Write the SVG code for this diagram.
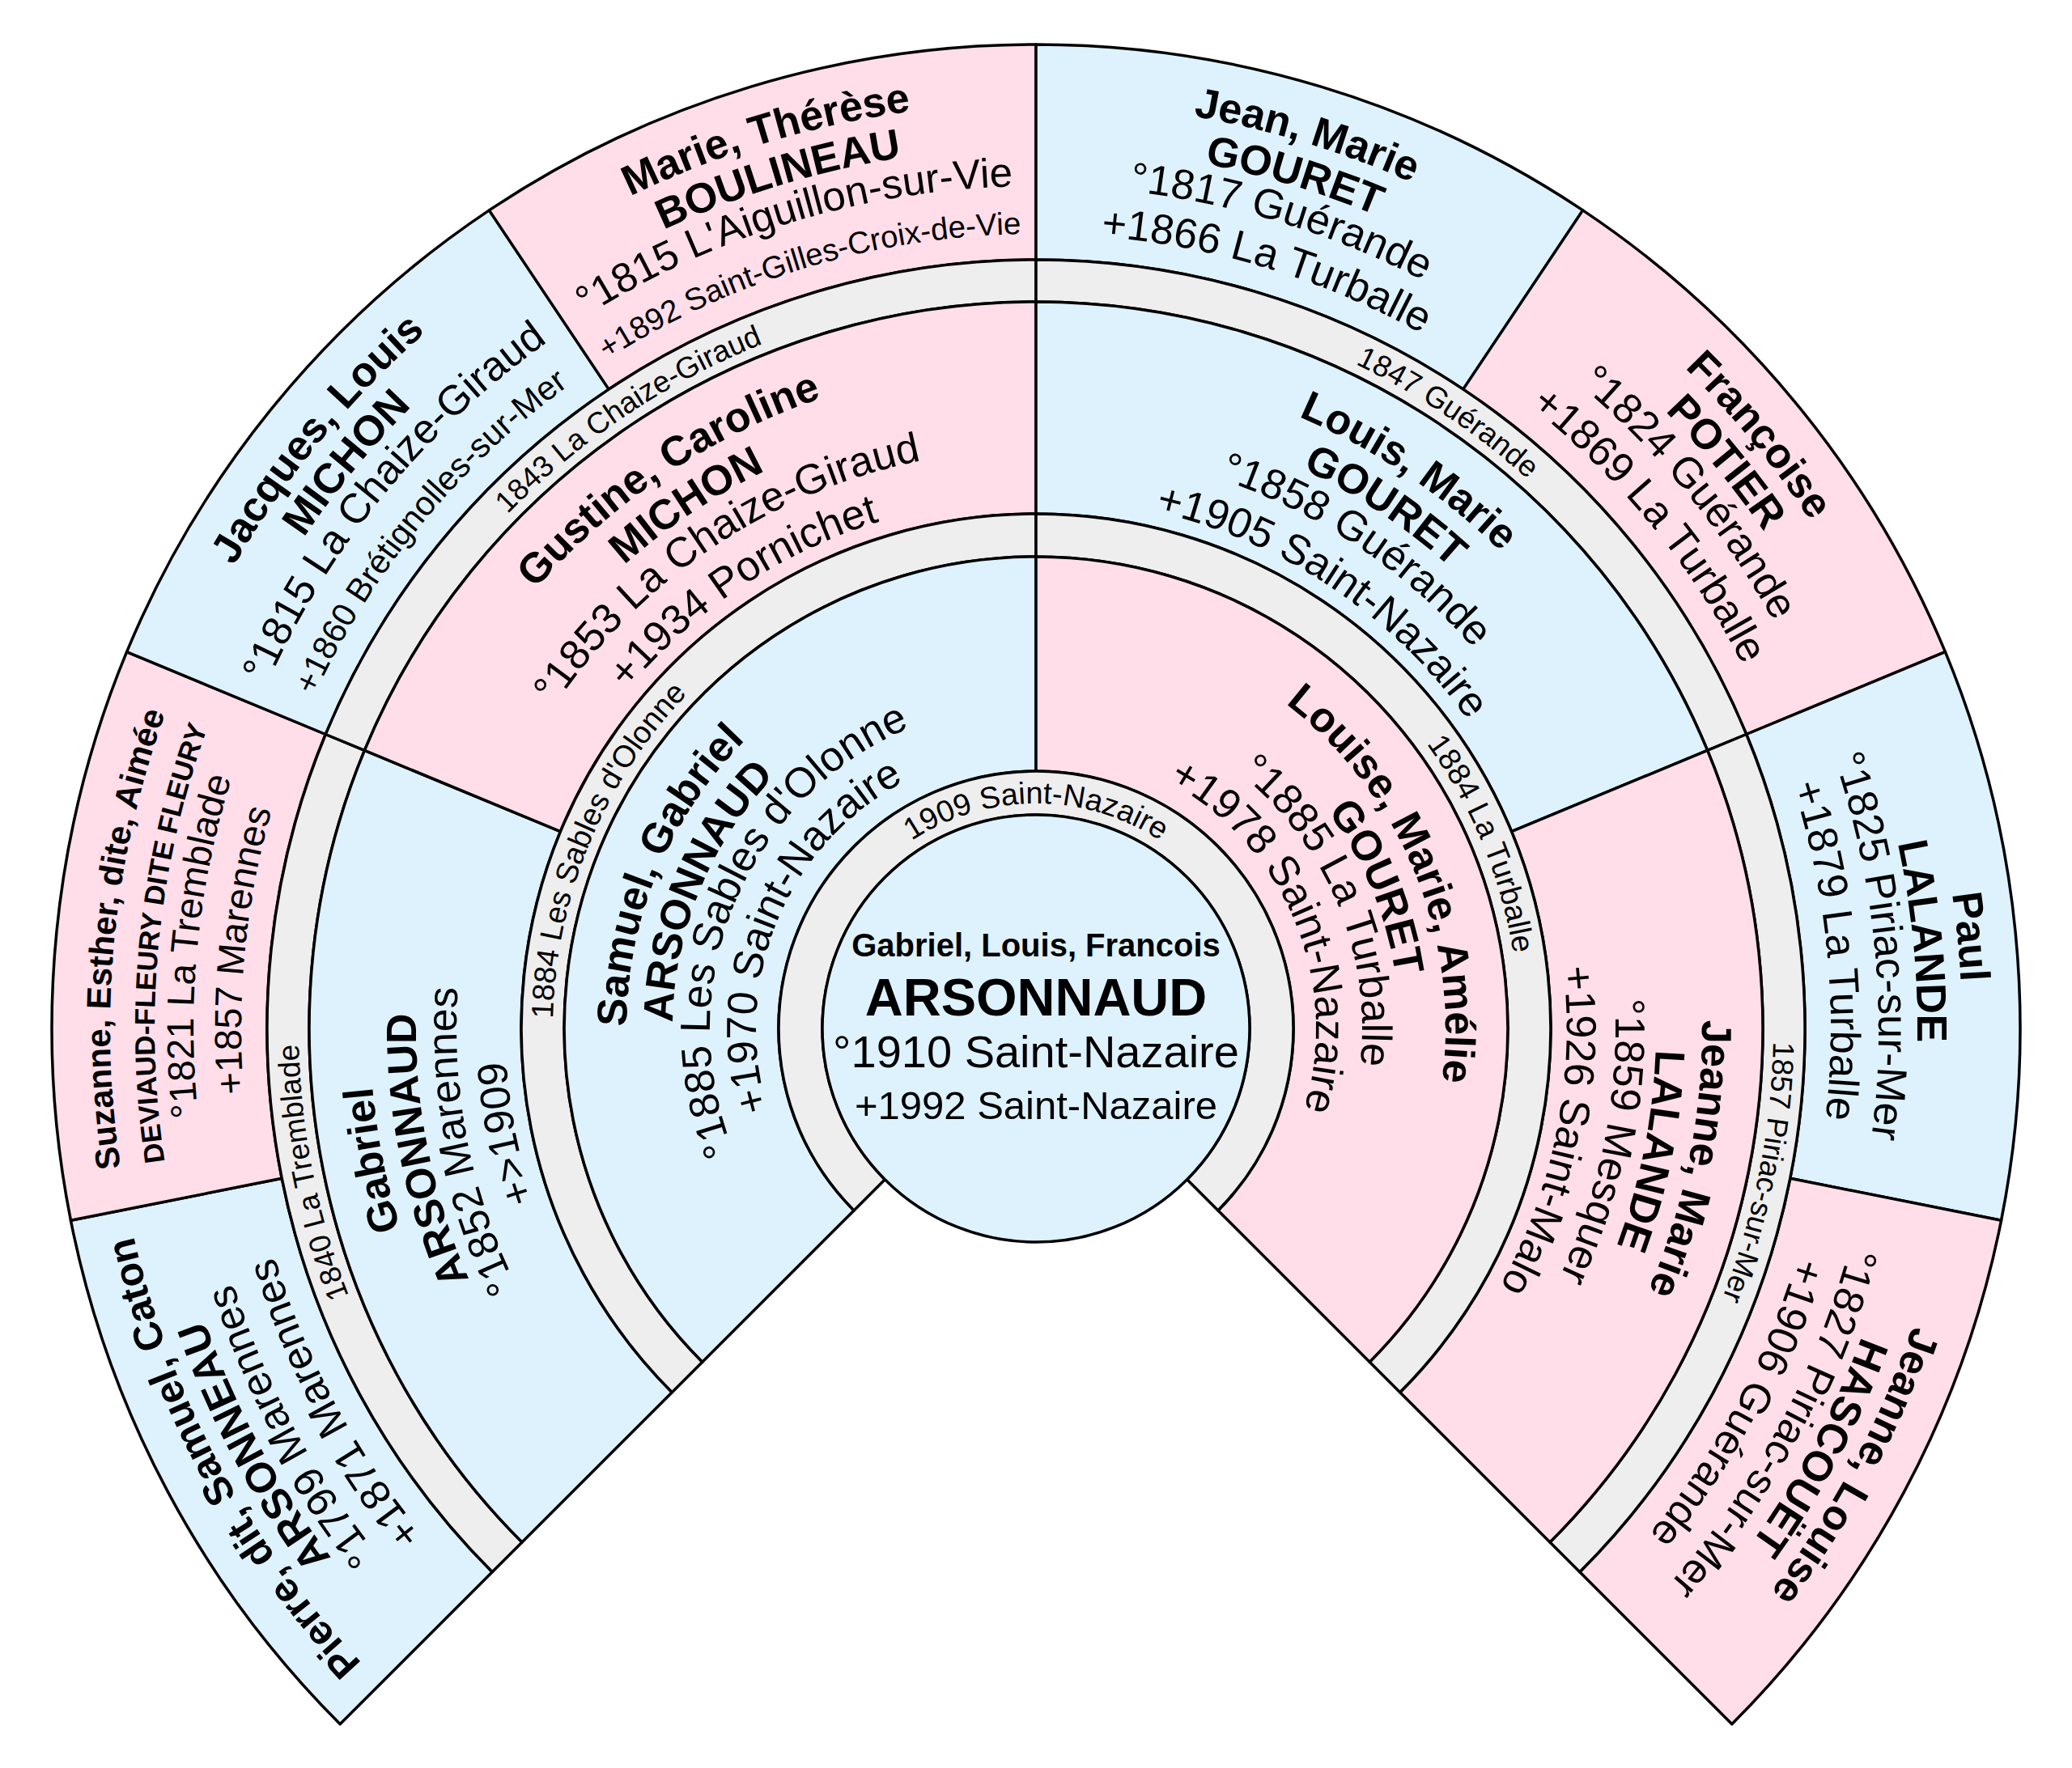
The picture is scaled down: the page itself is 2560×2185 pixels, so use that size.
<svg xmlns="http://www.w3.org/2000/svg" width="2560" height="2185" viewBox="0 0 2560 2185">
<style>
.c{stroke:#000;stroke-width:3.5;stroke-linejoin:round}
.m{fill:#def2fe}
.f{fill:#ffdee9}
.g{fill:#eeeeee}
text{font-family:"Liberation Sans",Arial,Helvetica,sans-serif;fill:#000}
.b{font-weight:bold}
.t{text-anchor:middle}
</style>
<defs>
<path id="r278" d="M-278 0A278 278 0 0 1 278 0"/>
<path id="r597" d="M-597 0A597 597 0 0 1 597 0"/>
<path id="r911" d="M-911 0A911 911 0 0 1 911 0"/>
<path id="r346" d="M-346 0A346 346 0 0 1 346 0"/>
<path id="r403" d="M-403 0A403 403 0 0 1 403 0"/>
<path id="r449" d="M-449 0A449 449 0 0 1 449 0"/>
<path id="r506" d="M-506 0A506 506 0 0 1 506 0"/>
<path id="r656" d="M-656 0A656 656 0 0 1 656 0"/>
<path id="r716" d="M-716 0A716 716 0 0 1 716 0"/>
<path id="r766" d="M-766 0A766 766 0 0 1 766 0"/>
<path id="r823" d="M-823 0A823 823 0 0 1 823 0"/>
<path id="r982" d="M-982 0A982 982 0 0 1 982 0"/>
<path id="r1041" d="M-1041 0A1041 1041 0 0 1 1041 0"/>
<path id="r1089" d="M-1089 0A1089 1089 0 0 1 1089 0"/>
<path id="r1144" d="M-1144 0A1144 1144 0 0 1 1144 0"/>
</defs>
<rect width="2560" height="2185" fill="#fff"/>

<!-- Generation 3 -->
<g id="p-pierre-arsonneau">
<path class="c m" transform="translate(1280 1271)" d="M-859.8 859.8A1216 1216 0 0 1 -1192.6 237.2L-931.7 185.3A950 950 0 0 0 -671.8 671.8Z"/>
<g class="t" transform="translate(1280 1271) rotate(-118.125)">
<text class="b" font-size="50"><textPath href="#r1144" startOffset="50%">Pierre, dit, Samuel, Caton</textPath></text>
<text class="b" font-size="52"><textPath href="#r1089" startOffset="50%">ARSONNEAU</textPath></text>
<text font-size="52"><textPath href="#r1041" startOffset="50%">°1799 Marennes</textPath></text>
<text font-size="52"><textPath href="#r982" startOffset="50%">+1871 Marennes</textPath></text>
</g></g>

<g id="p-suzanne-deviaud-fleury">
<path class="c f" transform="translate(1280 1271)" d="M-1192.6 237.2A1216 1216 0 0 1 -1123.4 -465.3L-877.7 -363.5A950 950 0 0 0 -931.7 185.3Z"/>
<g class="t" transform="translate(1280 1271) rotate(-84.375)">
<text class="b" font-size="42"><textPath href="#r1144" startOffset="50%">Suzanne, Esther, dite, Aimée</textPath></text>
<text class="b" font-size="35"><textPath href="#r1089" startOffset="50%">DEVIAUD-FLEURY DITE FLEURY</textPath></text>
<text font-size="47"><textPath href="#r1041" startOffset="50%">°1821 La Tremblade</textPath></text>
<text font-size="47"><textPath href="#r982" startOffset="50%">+1857 Marennes</textPath></text>
</g></g>

<g id="p-jacques-michon">
<path class="c m" transform="translate(1280 1271)" d="M-1123.4 -465.3A1216 1216 0 0 1 -675.6 -1011.1L-527.8 -789.9A950 950 0 0 0 -877.7 -363.5Z"/>
<g class="t" transform="translate(1280 1271) rotate(-50.625)">
<text class="b" font-size="52"><textPath href="#r1144" startOffset="50%">Jacques, Louis</textPath></text>
<text class="b" font-size="52"><textPath href="#r1089" startOffset="50%">MICHON</textPath></text>
<text font-size="51.5"><textPath href="#r1041" startOffset="50%">°1815 La Chaize-Giraud</textPath></text>
<text font-size="41.5"><textPath href="#r982" startOffset="50%">+1860 Brétignolles-sur-Mer</textPath></text>
</g></g>

<g id="p-marie-boulineau">
<path class="c f" transform="translate(1280 1271)" d="M-675.6 -1011.1A1216 1216 0 0 1 0 -1216L0 -950A950 950 0 0 0 -527.8 -789.9Z"/>
<g class="t" transform="translate(1280 1271) rotate(-16.875)">
<text class="b" font-size="52"><textPath href="#r1144" startOffset="50%">Marie, Thérèse</textPath></text>
<text class="b" font-size="52"><textPath href="#r1089" startOffset="50%">BOULINEAU</textPath></text>
<text font-size="51"><textPath href="#r1041" startOffset="50%">°1815 L'Aiguillon-sur-Vie</textPath></text>
<text font-size="38.5"><textPath href="#r982" startOffset="50%">+1892 Saint-Gilles-Croix-de-Vie</textPath></text>
</g></g>

<g id="p-jean-gouret">
<path class="c m" transform="translate(1280 1271)" d="M0 -1216A1216 1216 0 0 1 675.6 -1011.1L527.8 -789.9A950 950 0 0 0 0 -950Z"/>
<g class="t" transform="translate(1280 1271) rotate(16.875)">
<text class="b" font-size="52"><textPath href="#r1144" startOffset="50%">Jean, Marie</textPath></text>
<text class="b" font-size="52"><textPath href="#r1089" startOffset="50%">GOURET</textPath></text>
<text font-size="52"><textPath href="#r1041" startOffset="50%">°1817 Guérande</textPath></text>
<text font-size="52"><textPath href="#r982" startOffset="50%">+1866 La Turballe</textPath></text>
</g></g>

<g id="p-francoise-potier">
<path class="c f" transform="translate(1280 1271)" d="M675.6 -1011.1A1216 1216 0 0 1 1123.4 -465.3L877.7 -363.5A950 950 0 0 0 527.8 -789.9Z"/>
<g class="t" transform="translate(1280 1271) rotate(50.625)">
<text class="b" font-size="52"><textPath href="#r1144" startOffset="50%">Françoise</textPath></text>
<text class="b" font-size="52"><textPath href="#r1089" startOffset="50%">POTIER</textPath></text>
<text font-size="52"><textPath href="#r1041" startOffset="50%">°1824 Guérande</textPath></text>
<text font-size="52"><textPath href="#r982" startOffset="50%">+1869 La Turballe</textPath></text>
</g></g>

<g id="p-paul-lalande">
<path class="c m" transform="translate(1280 1271)" d="M1123.4 -465.3A1216 1216 0 0 1 1192.6 237.2L931.7 185.3A950 950 0 0 0 877.7 -363.5Z"/>
<g class="t" transform="translate(1280 1271) rotate(84.375)">
<text class="b" font-size="52"><textPath href="#r1144" startOffset="50%">Paul</textPath></text>
<text class="b" font-size="52"><textPath href="#r1089" startOffset="50%">LALANDE</textPath></text>
<text font-size="52"><textPath href="#r1041" startOffset="50%">°1825 Piriac-sur-Mer</textPath></text>
<text font-size="52"><textPath href="#r982" startOffset="50%">+1879 La Turballe</textPath></text>
</g></g>

<g id="p-jeanne-hascouet">
<path class="c f" transform="translate(1280 1271)" d="M1192.6 237.2A1216 1216 0 0 1 859.8 859.8L671.8 671.8A950 950 0 0 0 931.7 185.3Z"/>
<g class="t" transform="translate(1280 1271) rotate(118.125)">
<text class="b" font-size="52"><textPath href="#r1144" startOffset="50%">Jeanne, Louise</textPath></text>
<text class="b" font-size="52"><textPath href="#r1089" startOffset="50%">HASCOUËT</textPath></text>
<text font-size="52"><textPath href="#r1041" startOffset="50%">°1827 Piriac-sur-Mer</textPath></text>
<text font-size="52"><textPath href="#r982" startOffset="50%">+1906 Guérande</textPath></text>
</g></g>

<!-- Marriages generation 3 -->
<g id="mar-1840">
<path class="c g" transform="translate(1280 1271)" d="M-671.8 671.8A950 950 0 0 1 -877.7 -363.5L-829.6 -343.6A898 898 0 0 0 -635 635Z"/>
<text class="t" font-size="37" transform="translate(1280 1271) rotate(-101.25)"><textPath href="#r911" startOffset="50%">1840 La Tremblade</textPath></text>
</g>
<g id="mar-1843">
<path class="c g" transform="translate(1280 1271)" d="M-877.7 -363.5A950 950 0 0 1 0 -950L0 -898A898 898 0 0 0 -829.6 -343.6Z"/>
<text class="t" font-size="37" transform="translate(1280 1271) rotate(-33.75)"><textPath href="#r911" startOffset="50%">1843 La Chaize-Giraud</textPath></text>
</g>
<g id="mar-1847">
<path class="c g" transform="translate(1280 1271)" d="M0 -950A950 950 0 0 1 877.7 -363.5L829.6 -343.6A898 898 0 0 0 0 -898Z"/>
<text class="t" font-size="37" transform="translate(1280 1271) rotate(33.75)"><textPath href="#r911" startOffset="50%">1847 Guérande</textPath></text>
</g>
<g id="mar-1857">
<path class="c g" transform="translate(1280 1271)" d="M877.7 -363.5A950 950 0 0 1 671.8 671.8L635 635A898 898 0 0 0 829.6 -343.6Z"/>
<text class="t" font-size="37" transform="translate(1280 1271) rotate(101.25)"><textPath href="#r911" startOffset="50%">1857 Piriac-sur-Mer</textPath></text>
</g>

<!-- Generation 2 -->
<g id="p-gabriel-arsonnaud">
<path class="c m" transform="translate(1280 1271)" d="M-635 635A898 898 0 0 1 -829.6 -343.6L-587.6 -243.4A636 636 0 0 0 -449.7 449.7Z"/>
<g class="t" transform="translate(1280 1271) rotate(-101.25)">
<text class="b" font-size="52"><textPath href="#r823" startOffset="50%">Gabriel</textPath></text>
<text class="b" font-size="52"><textPath href="#r766" startOffset="50%">ARSONNAUD</textPath></text>
<text font-size="52"><textPath href="#r716" startOffset="50%">°1852 Marennes</textPath></text>
<text font-size="52"><textPath href="#r656" startOffset="50%">+&gt;1909</textPath></text>
</g></g>

<g id="p-gustine-michon">
<path class="c f" transform="translate(1280 1271)" d="M-829.6 -343.6A898 898 0 0 1 0 -898L0 -636A636 636 0 0 0 -587.6 -243.4Z"/>
<g class="t" transform="translate(1280 1271) rotate(-33.75)">
<text class="b" font-size="52"><textPath href="#r823" startOffset="50%">Gustine, Caroline</textPath></text>
<text class="b" font-size="52"><textPath href="#r766" startOffset="50%">MICHON</textPath></text>
<text font-size="52"><textPath href="#r716" startOffset="50%">°1853 La Chaize-Giraud</textPath></text>
<text font-size="52"><textPath href="#r656" startOffset="50%">+1934 Pornichet</textPath></text>
</g></g>

<g id="p-louis-gouret">
<path class="c m" transform="translate(1280 1271)" d="M0 -898A898 898 0 0 1 829.6 -343.6L587.6 -243.4A636 636 0 0 0 0 -636Z"/>
<g class="t" transform="translate(1280 1271) rotate(33.75)">
<text class="b" font-size="52"><textPath href="#r823" startOffset="50%">Louis, Marie</textPath></text>
<text class="b" font-size="52"><textPath href="#r766" startOffset="50%">GOURET</textPath></text>
<text font-size="52"><textPath href="#r716" startOffset="50%">°1858 Guérande</textPath></text>
<text font-size="52"><textPath href="#r656" startOffset="50%">+1905 Saint-Nazaire</textPath></text>
</g></g>

<g id="p-jeanne-lalande">
<path class="c f" transform="translate(1280 1271)" d="M829.6 -343.6A898 898 0 0 1 635 635L449.7 449.7A636 636 0 0 0 587.6 -243.4Z"/>
<g class="t" transform="translate(1280 1271) rotate(101.25)">
<text class="b" font-size="52"><textPath href="#r823" startOffset="50%">Jeanne, Marie</textPath></text>
<text class="b" font-size="52"><textPath href="#r766" startOffset="50%">LALANDE</textPath></text>
<text font-size="52"><textPath href="#r716" startOffset="50%">°1859 Mesquer</textPath></text>
<text font-size="52"><textPath href="#r656" startOffset="50%">+1926 Saint-Malo</textPath></text>
</g></g>

<!-- Marriages generation 2 -->
<g id="mar-1884a">
<path class="c g" transform="translate(1280 1271)" d="M-449.7 449.7A636 636 0 0 1 0 -636L0 -583A583 583 0 0 0 -412.2 412.2Z"/>
<text class="t" font-size="38" transform="translate(1280 1271) rotate(-67.5)"><textPath href="#r597" startOffset="50%">1884 Les Sables d'Olonne</textPath></text>
</g>
<g id="mar-1884b">
<path class="c g" transform="translate(1280 1271)" d="M0 -636A636 636 0 0 1 449.7 449.7L412.2 412.2A583 583 0 0 0 0 -583Z"/>
<text class="t" font-size="38" transform="translate(1280 1271) rotate(67.5)"><textPath href="#r597" startOffset="50%">1884 La Turballe</textPath></text>
</g>

<!-- Generation 1 -->
<g id="p-samuel-arsonnaud">
<path class="c m" transform="translate(1280 1271)" d="M-412.2 412.2A583 583 0 0 1 0 -583L0 -318A318 318 0 0 0 -224.9 224.9Z"/>
<g class="t" transform="translate(1280 1271) rotate(-67.5)">
<text class="b" font-size="52"><textPath href="#r506" startOffset="50%">Samuel, Gabriel</textPath></text>
<text class="b" font-size="52"><textPath href="#r449" startOffset="50%">ARSONNAUD</textPath></text>
<text font-size="52"><textPath href="#r403" startOffset="50%">°1885 Les Sables d'Olonne</textPath></text>
<text font-size="52"><textPath href="#r346" startOffset="50%">+1970 Saint-Nazaire</textPath></text>
</g></g>

<g id="p-louise-gouret">
<path class="c f" transform="translate(1280 1271)" d="M0 -583A583 583 0 0 1 412.2 412.2L224.9 224.9A318 318 0 0 0 0 -318Z"/>
<g class="t" transform="translate(1280 1271) rotate(67.5)">
<text class="b" font-size="52"><textPath href="#r506" startOffset="50%">Louise, Marie, Amélie</textPath></text>
<text class="b" font-size="52"><textPath href="#r449" startOffset="50%">GOURET</textPath></text>
<text font-size="52"><textPath href="#r403" startOffset="50%">°1885 La Turballe</textPath></text>
<text font-size="52"><textPath href="#r346" startOffset="50%">+1978 Saint-Nazaire</textPath></text>
</g></g>

<!-- Marriage generation 1 -->
<g id="mar-1909">
<path class="c g" transform="translate(1280 1271)" d="M-224.9 224.9A318 318 0 1 1 224.9 224.9L186.7 186.7A264 264 0 1 0 -186.7 186.7Z"/>
<text class="t" font-size="38" transform="translate(1280 1271)"><textPath href="#r278" startOffset="50%">1909 Saint-Nazaire</textPath></text>
</g>

<!-- Root -->
<g id="p-gabriel-louis-francois">
<circle class="c m" cx="1280" cy="1271" r="264"/>
<text class="b t" x="1280" y="1182" font-size="40">Gabriel, Louis, Francois</text>
<text class="b t" x="1280" y="1255" font-size="65">ARSONNAUD</text>
<text class="t" x="1280" y="1319" font-size="56">°1910 Saint-Nazaire</text>
<text class="t" x="1280" y="1383" font-size="49">+1992 Saint-Nazaire</text>
</g>
</svg>
